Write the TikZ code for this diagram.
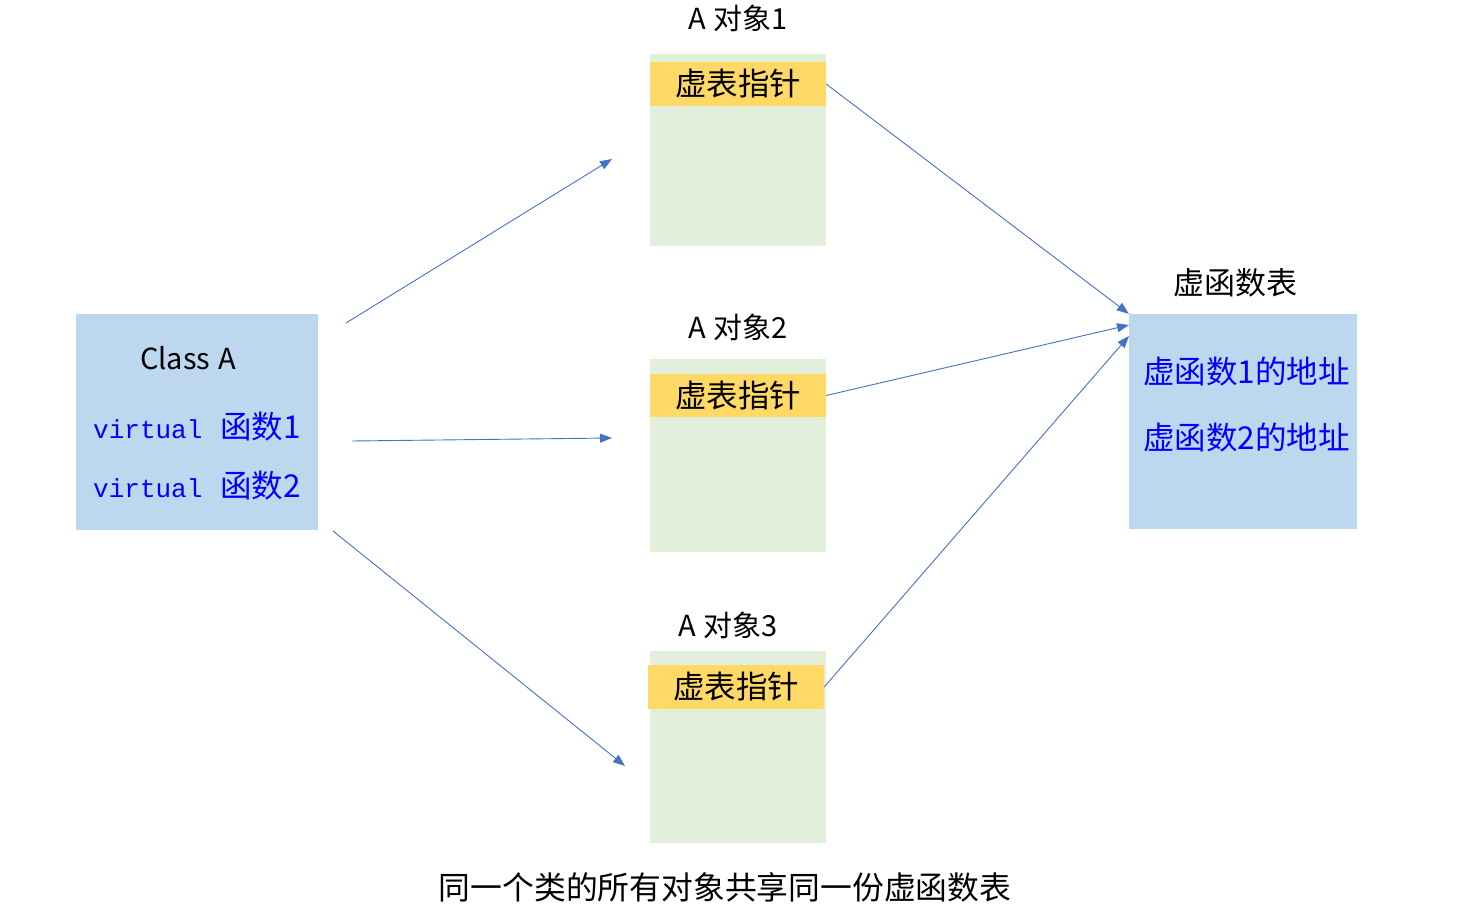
\documentclass[tikz,border=0pt]{standalone}
\usepackage{fontspec}
\setmainfont{Noto Sans CJK SC}
\newfontfamily\cjk{Noto Sans CJK SC}
\newfontfamily\monofnt{Liberation Mono}
\usetikzlibrary{arrows.meta}
\definecolor{boxblue}{HTML}{BDD7EE}
\definecolor{objgreen}{HTML}{E2EFDA}
\definecolor{ptryellow}{HTML}{FFD966}
\definecolor{arrowblue}{HTML}{4472C4}
\definecolor{txtblue}{HTML}{0000FF}
\newcommand{\mytxt}[1]{\fontsize{#1}{#1}\selectfont}
\newcommand{\lat}[1]{{\monofnt\fontsize{26}{26}\selectfont #1}}
\begin{document}
\begin{tikzpicture}[x=1pt,y=-1pt,
  bluebox/.style={fill=boxblue,draw=none,minimum width=#1,inner sep=0pt},
  objbox/.style={fill=objgreen,draw=none,minimum width=176pt,minimum height=192pt,inner sep=0pt},
  ptrbox/.style={fill=ptryellow,draw=none,minimum width=176pt,minimum height=44pt,inner sep=0pt,font=\mytxt{31.5}},
  lbl/.style={inner sep=0pt,font=\mytxt{29}},
  bluetxt/.style={inner sep=0pt,text=txtblue,font=\mytxt{31.5}},
  conn/.style={draw=arrowblue,line width=0.9pt,-{Triangle[length=12pt,width=9pt]}}]
\useasboundingbox (0,0) rectangle (1460,917);
% class A
\node[bluebox=242pt,minimum height=216pt] (cls) at (197,422) {};
\node[lbl] (clsname) at (188,358) {Class\hspace{8pt}A};
\node[bluetxt,anchor=west] (f1) at (93,427) {\lat{virtual}\hspace{18pt}函数1};
\node[bluetxt,anchor=west] (f2) at (93,486) {\lat{virtual}\hspace{18pt}函数2};
% objects
\node[objbox] (o1) at (738,150) {};
\node[ptrbox] (p1) at (738,84) {虚表指针};
\node[lbl] (l1) at (738,18) {A\hspace{8pt}对象1};
\node[objbox,minimum height=193pt] (o2) at (738,455.5) {};
\node[ptrbox,minimum height=43pt] (p2) at (738,395.5) {虚表指针};
\node[lbl] (l2) at (738,327) {A\hspace{8pt}对象2};
\node[objbox] (o3) at (738,747) {};
\node[ptrbox] (p3) at (736,687) {虚表指针};
\node[lbl] (l3) at (728,625) {A\hspace{8pt}对象3};
% vtable
\node[bluebox=228pt,minimum height=215pt] (vt) at (1243,421.5) {};
\node[lbl,font=\mytxt{31}] (vtname) at (1235,283) {虚函数表};
\node[bluetxt,anchor=west] (a1) at (1143,372) {虚函数1的地址};
\node[bluetxt,anchor=west] (a2) at (1143,438) {虚函数2的地址};
% caption
\node[lbl,font=\mytxt{31.8}] (cap) at (725,887) {同一个类的所有对象共享同一份虚函数表};
% connector ends
\coordinate (s1) at (346,323);
\coordinate (e1) at (612,159);
\coordinate (s2) at (352,441);
\coordinate (e2) at (612,438);
\coordinate (s3) at (333,531);
\coordinate (e3) at (625,766);
\coordinate (v2) at (1129,325);
\coordinate (v3) at (1129,336);
\draw[conn] (s1) -- (e1);
\draw[conn] (s2) -- (e2);
\draw[conn] (s3) -- (e3);
\draw[conn] (p1.east) -- (vt.north west);
\draw[conn] (p2.east) -- (v2);
\draw[conn] (p3.east) -- (v3);
\end{tikzpicture}
\end{document}
